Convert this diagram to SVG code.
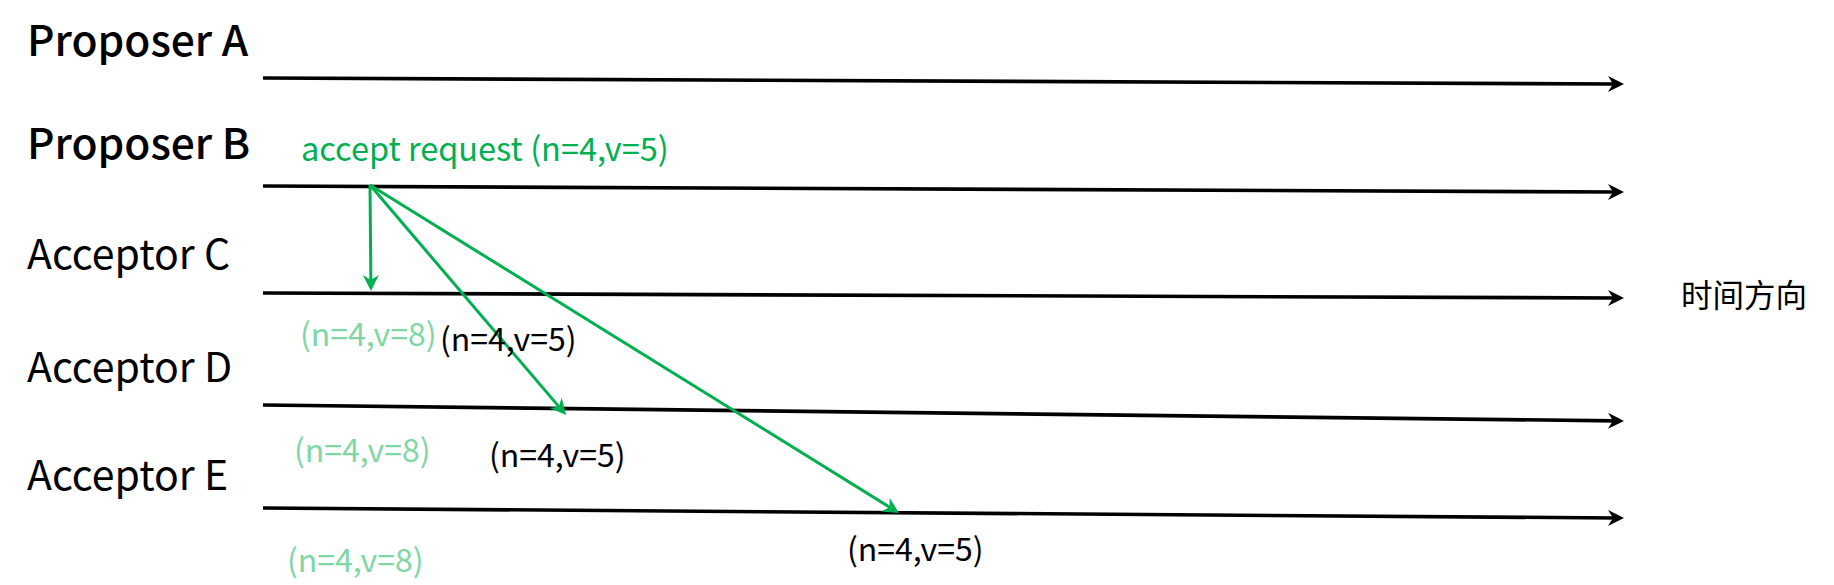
<svg xmlns="http://www.w3.org/2000/svg" width="1834" height="585" viewBox="0 0 1834 585">
<style>
text{font-family:"Noto Sans CJK SC","Noto Sans",sans-serif;}
.lane{font-size:41px;fill:#000;}
.prop{font-weight:500;font-size:42.5px;}
.lbl{font-size:32px;}
.req{font-size:32.5px;}
.blk{fill:#000;}
.lg{fill:#80D6A5;}
.gr{fill:#00B050;}
.tl{stroke:#000;stroke-width:3.6;fill:none;}
.msg{stroke:#00B050;stroke-width:3;fill:none;}
</style>
<defs>
<marker id="ab" markerUnits="userSpaceOnUse" markerWidth="22" markerHeight="22" refX="10" refY="11" orient="auto" viewBox="0 0 22 22">
<path d="M2,3 L18,11 L2,19 L7,11 Z" fill="#000"/>
</marker>
<marker id="ag" markerUnits="userSpaceOnUse" markerWidth="22" markerHeight="22" refX="10" refY="11" orient="auto" viewBox="0 0 22 22">
<path d="M2,3 L18,11 L2,19 L7,11 Z" fill="#00B050"/>
</marker>
</defs>
<g id="proposerA"><text class="lane prop" x="27" y="56">Proposer A</text></g>
<g id="proposerB"><text class="lane prop" x="27" y="159">Proposer B</text></g>
<g id="acceptorC"><text class="lane" x="27" y="269">Acceptor C</text></g>
<g id="acceptorD"><text class="lane" x="27" y="382">Acceptor D</text></g>
<g id="acceptorE"><text class="lane" x="27" y="490">Acceptor E</text></g>
<g id="time"><text x="1681" y="307" style="font-size:31.5px" fill="#000">时间方向</text></g>
<g id="connectors">
<line class="tl" x1="263" y1="78" x2="1616" y2="84" marker-end="url(#ab)"/>
<line class="tl" x1="263" y1="186" x2="1616" y2="192" marker-end="url(#ab)"/>
<line class="tl" x1="263" y1="293" x2="1616" y2="298" marker-end="url(#ab)"/>
<line class="tl" x1="263" y1="405" x2="1616" y2="420.9" marker-end="url(#ab)"/>
<line class="tl" x1="263" y1="508" x2="1616" y2="518" marker-end="url(#ab)"/>
<line class="msg" x1="370" y1="185" x2="370.9" y2="283" marker-end="url(#ag)"/>
<line class="msg" x1="370" y1="185" x2="560.8" y2="408.9" marker-end="url(#ag)"/>
<line class="msg" x1="370" y1="185" x2="892.2" y2="508.8" marker-end="url(#ag)"/>
</g>
<g id="labels">
<text class="req gr" x="301" y="161">accept request (n=4,v=5)</text>
<text class="lbl lg" x="300" y="346">(n=4,v=8)</text>
<text class="lbl blk" x="440" y="351">(n=4,v=5)</text>
<text class="lbl lg" x="294" y="462">(n=4,v=8)</text>
<text class="lbl blk" x="489" y="467">(n=4,v=5)</text>
<text class="lbl lg" x="287" y="572">(n=4,v=8)</text>
<text class="lbl blk" x="847" y="561">(n=4,v=5)</text>
</g>
</svg>
